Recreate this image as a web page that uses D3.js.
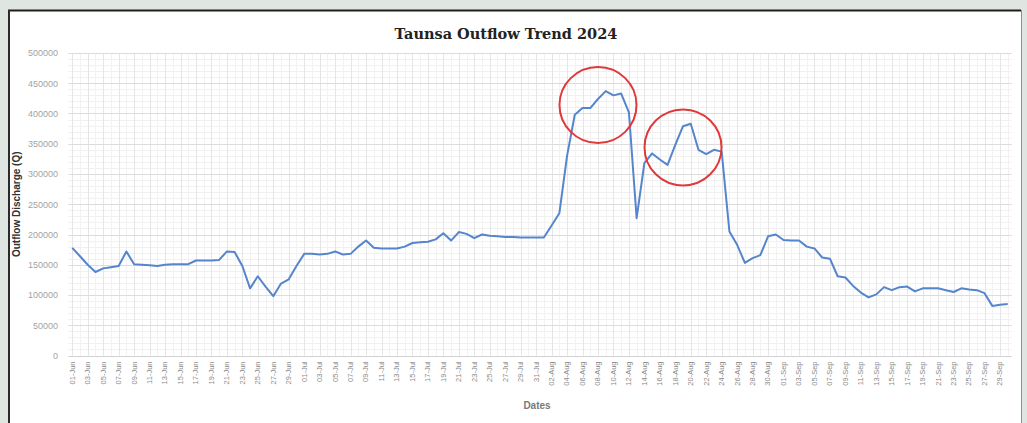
<!DOCTYPE html>
<html>
<head>
<meta charset="utf-8">
<script src="https://cdn.jsdelivr.net/npm/d3@7/dist/d3.min.js"></script>
<style>
  html, body { margin: 0; padding: 0; background: #dfe5e1; }
  svg { display: block; }
</style>
</head>
<body>
<svg id="chart" width="1027" height="423"></svg>
<script>
// ---- data (thousand cusecs, stored as cusecs) ----
const startDate = "2024-06-01";
const endDate = "2024-09-30";
const junValues = [178,164,150,138,144,146,148,172,151,150,149,148,150,151,151,151,157,157,157,158,172,171,148,111,131,114,98,119,126,148];
const julValues = [168,168,167,168,172,167,168,180,190,178,177,177,177,180,186,187,188,192,202,190,204,201,194,200,198,197,196,196,195,195,195];
const augValues = [195,215,235,330,398,409,409,424,437,430,433,402,227,318,334,324,315,348,379,383,340,333,340,337,205,183,153,161,166,197,200];
const sepValues = [191,190,190,180,177,162,160,131,129,115,104,96,101,113,108,113,114,106,111,111,111,108,105,111,109,108,103,82,84,85];
const yTicks = [0,50000,100000,150000,200000,250000,300000,350000,400000,450000,500000];
// highlighted peaks (center date, center value)
const highlights = [
  { date: "2024-08-08", value: 414000 },
  { date: "2024-08-19", value: 344000 }
];
const titleText = "Taunsa Outflow Trend 2024";
const yTitle = "Outflow Discharge (Q)";
const xTitle = "Dates";

(function () {
const parse = d3.timeParse("%Y-%m-%d");
const fmt = d3.timeFormat("%d-%b");
const days = d3.timeDay.range(parse(startDate), d3.timeDay.offset(parse(endDate), 1));
const values = [...junValues, ...julValues, ...augValues, ...sepValues].map(v => v * 1000);
const data = days.map((d, i) => ({ date: d, label: fmt(d), value: values[i] }));

const svg = d3.select("#chart");

// panel
svg.append("rect").attr("x", 9).attr("y", 10).attr("width", 1012).attr("height", 413).attr("fill", "#ffffff");
svg.append("line").attr("x1", 8).attr("x2", 1021).attr("y1", 10.5).attr("y2", 10.5).attr("stroke", "#1e1e1e").attr("stroke-width", 2);
svg.append("line").attr("x1", 9).attr("x2", 9).attr("y1", 10).attr("y2", 423).attr("stroke", "#2a2a2a").attr("stroke-width", 2);
svg.append("line").attr("x1", 1021.5).attr("x2", 1021.5).attr("y1", 10).attr("y2", 423).attr("stroke", "#8a8f8c").attr("stroke-width", 1);

const pL = 68.4, pR = 1011.6, pT = 53, pB = 355.5;

const x = d3.scaleBand().domain(data.map(d => d.label)).range([pL, pR]).paddingInner(0).paddingOuter(0);
const cx = lbl => x(lbl) + x.bandwidth() / 2;
const y = d3.scaleLinear().domain([0, 500000]).range([pB, pT]);

// minor horizontal grid
const g = svg.append("g");
g.selectAll(".hmin").data(d3.range(0, 500001, 10000)).join("line")
  .attr("x1", pL).attr("x2", pR)
  .attr("y1", d => Math.round(y(d)) + 0.5).attr("y2", d => Math.round(y(d)) + 0.5)
  .attr("stroke", "#f1f1f1").attr("stroke-width", 1);
// vertical grid at each day
g.selectAll(".vmin").data(data).join("line")
  .attr("x1", d => Math.round(cx(d.label)) + 0.5).attr("x2", d => Math.round(cx(d.label)) + 0.5)
  .attr("y1", pT).attr("y2", pB)
  .attr("stroke", (d, i) => i % 2 === 0 ? "#e5e5e5" : "#f2f2f2").attr("stroke-width", 1);
// major horizontal grid
g.selectAll(".hmaj").data(yTicks).join("line")
  .attr("x1", pL).attr("x2", pR)
  .attr("y1", d => Math.round(y(d)) + 0.5).attr("y2", d => Math.round(y(d)) + 0.5)
  .attr("stroke", d => d === 0 ? "#d0d0d0" : "#dcdcdc").attr("stroke-width", 1);

// y axis labels
const yAxis = d3.axisLeft(y).tickValues(yTicks).tickSize(0).tickPadding(0).tickFormat(d3.format("d"));
const ya = svg.append("g").attr("transform", `translate(58,0)`).call(yAxis);
ya.select(".domain").remove();
ya.selectAll("text").attr("fill", "#a3a3a3").attr("font-family", "Liberation Sans, Arial, sans-serif").attr("font-size", "9px");

// x axis labels
const xAxis = d3.axisBottom(x).tickSize(0).tickPadding(0).tickValues(data.filter((d, i) => i % 2 === 0).map(d => d.label));
const xa = svg.append("g").attr("transform", `translate(0,${pB + 6})`).call(xAxis);
xa.select(".domain").remove();
xa.selectAll("text")
  .attr("fill", "#8a8a8a").attr("font-family", "Liberation Sans, Arial, sans-serif").attr("font-size", "7.5px")
  .attr("text-anchor", "end").attr("dy", "0.32em").attr("dx", 0).attr("y", 0)
  .attr("transform", "rotate(-90)");

// line
const line = d3.line().x(d => cx(d.label)).y(d => y(d.value));
svg.append("path").datum(data).attr("d", line)
  .attr("fill", "none").attr("stroke", "#5585cc").attr("stroke-width", 2).attr("stroke-linejoin", "round");

// highlight circles
svg.selectAll(".hl").data(highlights).join("ellipse")
  .attr("cx", d => cx(fmt(parse(d.date))))
  .attr("cy", d => y(d.value))
  .attr("rx", 38.5).attr("ry", 38)
  .attr("fill", "none").attr("stroke", "#e0393b").attr("stroke-width", 2);

// titles
svg.append("text").attr("x", 506).attr("y", 39).attr("text-anchor", "middle")
  .attr("font-family", "DejaVu Serif, serif").attr("font-weight", "bold").attr("font-size", "14.5px")
  .attr("fill", "#222").text(titleText);
svg.append("text").attr("transform", `translate(20,${(pT + pB) / 2}) rotate(-90)`).attr("text-anchor", "middle")
  .attr("font-family", "Liberation Sans, Arial, sans-serif").attr("font-weight", "bold").attr("font-size", "10px")
  .attr("fill", "#333").text(yTitle);
svg.append("text").attr("x", (pL + pR) / 2 - 3).attr("y", 409).attr("text-anchor", "middle")
  .attr("font-family", "Liberation Sans, Arial, sans-serif").attr("font-weight", "bold").attr("font-size", "10px")
  .attr("fill", "#7a7a7a").text(xTitle);
})();
</script>
</body>
</html>
